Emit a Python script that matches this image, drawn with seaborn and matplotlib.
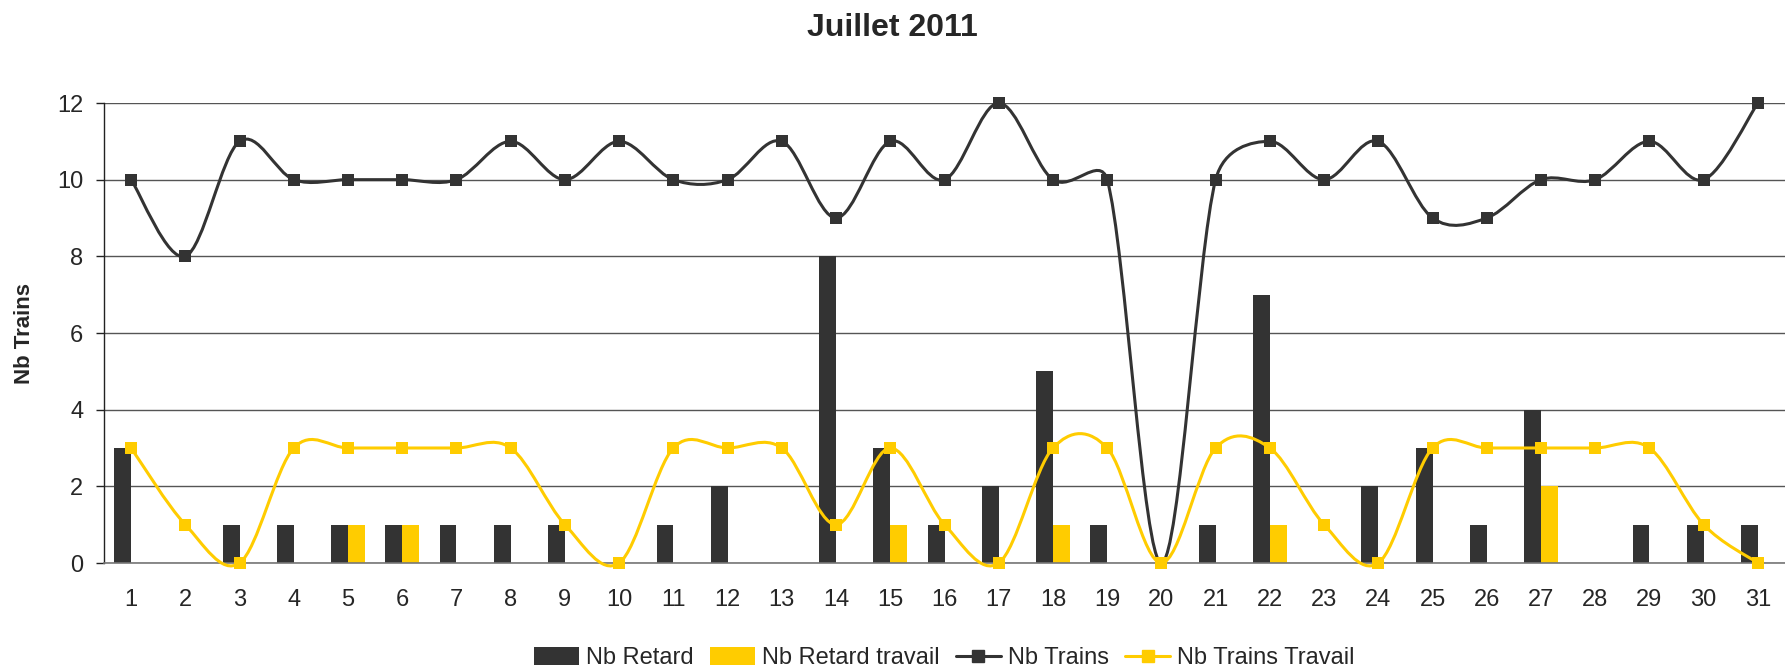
"""
Juillet 2011 - Nb Retard / Nb Trains per day
Bars for delays, smoothed lines (Excel style) for trains.
"""

import numpy as np
import pandas as pd

import matplotlib
matplotlib.use("Agg")
import matplotlib.pyplot as plt
from matplotlib.path import Path
from matplotlib.patches import PathPatch, Patch
from matplotlib.lines import Line2D
import seaborn as sns

# =============================================================================
# DATA
# =============================================================================

days = list(range(1, 32))

nb_retard = [3, 0, 1, 1, 1, 1, 1, 1, 1, 0, 1, 2, 0, 8, 3, 1,
             2, 5, 1, 0, 1, 7, 0, 2, 3, 1, 4, 0, 1, 1, 1]

nb_retard_travail = [0, 0, 0, 0, 1, 1, 0, 0, 0, 0, 0, 0, 0, 0, 1, 0,
                     0, 1, 0, 0, 0, 1, 0, 0, 0, 0, 2, 0, 0, 0, 0]

nb_trains = [10, 8, 11, 10, 10, 10, 10, 11, 10, 11, 10, 10, 11, 9, 11, 10,
             12, 10, 10, 0, 10, 11, 10, 11, 9, 9, 10, 10, 11, 10, 12]

nb_trains_travail = [3, 1, 0, 3, 3, 3, 3, 3, 1, 0, 3, 3, 3, 1, 3, 1,
                     0, 3, 3, 0, 3, 3, 1, 0, 3, 3, 3, 3, 3, 1, 0]

y_ticks = [0, 2, 4, 6, 8, 10, 12]

DARK = "#333333"
YELLOW = "#FFCC00"

# =============================================================================
# STYLE
# =============================================================================

sns.set_style("white")
plt.rcParams["font.family"] = ["Liberation Sans", "DejaVu Sans"]

W, H = 1785, 669
fig = plt.figure(figsize=(W / 100, H / 100), dpi=100)
ax = fig.add_axes([104 / W, 1 - 563 / H, 1681 / W, 460 / H])

# pixels per data unit, used so the smoothing works in screen space
PX_X = 1681 / 31
PX_Y = 460 / 12

# =============================================================================
# BARS
# =============================================================================

bars_df = pd.DataFrame({
    "day": days * 2,
    "value": nb_retard + nb_retard_travail,
    "series": ["Nb Retard"] * 31 + ["Nb Retard travail"] * 31,
})

sns.barplot(
    data=bars_df,
    x="day",
    y="value",
    hue="series",
    native_scale=True,
    width=0.62,
    palette=[DARK, YELLOW],
    saturation=1,
    linewidth=0,
    legend=False,
    ax=ax,
    zorder=2,
)

# =============================================================================
# SMOOTHED LINES
# =============================================================================


def smooth_path(xs, ys):
    """Bezier path through the points (Excel-like smoothing)."""
    scale = np.array([PX_X, PX_Y])
    pts = np.column_stack([xs, ys]).astype(float) * scale
    n = len(pts)
    verts = [pts[0]]
    codes = [Path.MOVETO]
    for i in range(n - 1):
        p0 = pts[max(i - 1, 0)]
        p1 = pts[i]
        p2 = pts[i + 1]
        p3 = pts[min(i + 2, n - 1)]
        d12 = np.linalg.norm(p2 - p1)
        d02 = np.linalg.norm(p2 - p0)
        d13 = np.linalg.norm(p3 - p1)
        f1 = 1 / 6 if d02 == 0 else min(1 / 6, d12 / (2 * d02))
        f2 = 1 / 6 if d13 == 0 else min(1 / 6, d12 / (2 * d13))
        verts += [p1 + (p2 - p0) * f1, p2 - (p3 - p1) * f2, p2]
        codes += [Path.CURVE4] * 3
    return Path(np.array(verts) / scale, codes)


for values, color, z in [(nb_trains, DARK, 4), (nb_trains_travail, YELLOW, 6)]:
    patch = PathPatch(
        smooth_path(days, values),
        facecolor="none",
        edgecolor=color,
        lw=2.2,
        zorder=z,
        clip_on=False,
    )
    ax.add_patch(patch)
    sns.scatterplot(
        x=days,
        y=values,
        marker="s",
        s=75,
        color=color,
        linewidth=0,
        zorder=z + 1,
        clip_on=False,
        ax=ax,
    )

# =============================================================================
# AXES
# =============================================================================

ax.set_xlim(0.5, 31.5)
ax.set_ylim(0, 12)

ax.set_xticks(days)
ax.set_xticklabels([str(d) for d in days], fontsize=17)
ax.set_xticks(np.arange(0.5, 32, 1), minor=True)
ax.tick_params(axis="x", which="major", length=0, pad=19)
ax.tick_params(axis="x", which="minor", length=6, width=1,
               color="#555555", direction="out")

ax.set_yticks(y_ticks)
ax.set_yticklabels([str(v) for v in y_ticks], fontsize=17)
ax.tick_params(axis="y", length=6, width=1, color="#222222",
               direction="out", pad=9, left=True)

ax.yaxis.grid(True, color="#555555", lw=1.0, zorder=0)
ax.set_axisbelow(True)

for side in ["top", "right"]:
    ax.spines[side].set_visible(False)
ax.spines["left"].set_color("#222222")
ax.spines["left"].set_linewidth(1.0)
ax.spines["bottom"].set_color("#777777")
ax.spines["bottom"].set_linewidth(1.2)

ax.set_xlabel("")
ax.set_ylabel("Nb Trains", fontsize=16, fontweight="bold")
ax.yaxis.label.set_va("center")
ax.yaxis.set_label_coords((25 - 104) / 1681, 0.5)

fig.text(0.5, 1 - 36 / H, "Juillet 2011", ha="center", va="baseline",
         fontsize=23, fontweight="bold")

# =============================================================================
# LEGEND
# =============================================================================

handles = [
    Patch(facecolor=DARK, edgecolor="none"),
    Patch(facecolor=YELLOW, edgecolor="none"),
    Line2D([], [], color=DARK, lw=2.2, marker="s", ms=8),
    Line2D([], [], color=YELLOW, lw=2.2, marker="s", ms=8),
]
labels = ["Nb Retard", "Nb Retard travail", "Nb Trains", "Nb Trains Travail"]

fig.legend(
    handles,
    labels,
    loc="center",
    bbox_to_anchor=(0.529, 0.016),
    ncol=4,
    frameon=False,
    fontsize=17,
    handlelength=1.9,
    handleheight=0.75,
    handletextpad=0.3,
    columnspacing=0.7,
)

fig.savefig("out.png", dpi=100)
